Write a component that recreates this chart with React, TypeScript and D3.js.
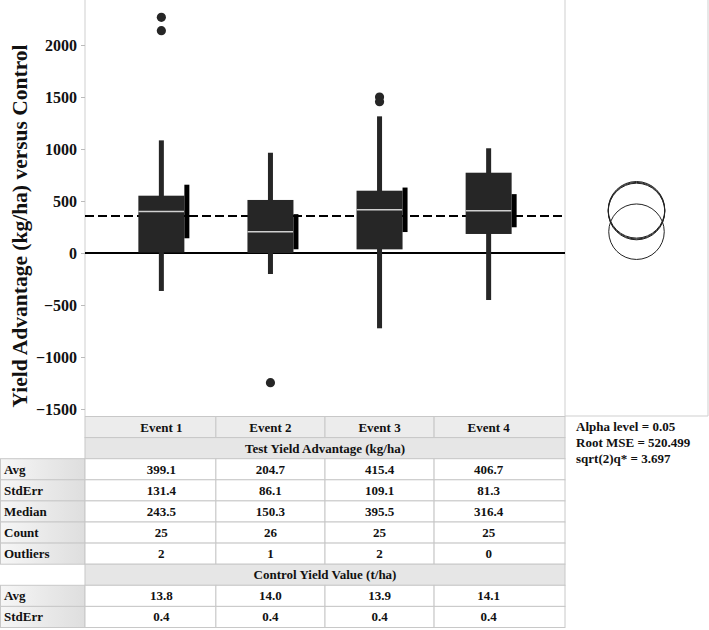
import React, { useEffect, useRef } from "react";
import * as d3 from "d3";

// chart values
const events = ["Event 1", "Event 2", "Event 3", "Event 4"];
const avg = [399.1, 204.7, 415.4, 406.7];
const stdErr = [131.4, 86.1, 109.1, 81.3];
const median = [243.5, 150.3, 395.5, 316.4];
const count = [25, 26, 25, 25];
const outlierCount = [2, 1, 2, 0];
const controlAvg = [13.8, 14.0, 13.9, 14.1];
const controlStdErr = [0.4, 0.4, 0.4, 0.4];

// box plot shape
const q1 = [5, 0, 35, 183];
const q3 = [551, 510, 599, 772];
const whiskerLow = [-365, -202, -724, -452];
const whiskerHigh = [1083, 964, 1314, 1007];
const outliers = [[2266, 2138], [-1247], [1500, 1455], []];
const grandMean = 356;

const yTicks = [-1500, -1000, -500, 0, 500, 1000, 1500, 2000];
const alphaLevel = 0.05;
const rootMSE = 520.499;
const qStar = 3.697;

const FONT = "'Liberation Serif', 'Times New Roman', serif";

const App = () => {
  const ref = useRef(null);

  useEffect(() => {
    const svg = d3.select(ref.current);
    svg.selectAll("*").remove();

    const plotLeft = 85;
    const plotRight = 565;
    const plotBottom = 416;
    const panelRight = 708;

    const x = d3.scalePoint().domain(events).range([plotLeft, plotRight]).padding(0.7);
    const y = d3.scaleLinear().domain([-1500, 2000]).range([409, 45]);

    const defs = svg.append("defs");
    const grad = defs.append("linearGradient").attr("id", "labelGrad");
    grad.append("stop").attr("offset", "0%").attr("stop-color", "#f6f6f6");
    grad.append("stop").attr("offset", "100%").attr("stop-color", "#dedede");

    // frame lines
    svg.append("line")
      .attr("x1", plotLeft).attr("x2", plotLeft).attr("y1", 0).attr("y2", plotBottom)
      .attr("stroke", "#cfcfcf");
    svg.append("line")
      .attr("x1", plotRight).attr("x2", plotRight).attr("y1", 0).attr("y2", plotBottom)
      .attr("stroke", "#cfcfcf");
    svg.append("line")
      .attr("x1", panelRight).attr("x2", panelRight).attr("y1", 0).attr("y2", plotBottom)
      .attr("stroke", "#cfcfcf");
    svg.append("line")
      .attr("x1", plotRight).attr("x2", panelRight).attr("y1", plotBottom).attr("y2", plotBottom)
      .attr("stroke", "#cfcfcf");

    // y axis
    const axis = svg.append("g")
      .attr("transform", `translate(${plotLeft},0)`)
      .call(d3.axisLeft(y).tickValues(yTicks).tickSize(4).tickPadding(4).tickFormat(d3.format("d")));
    axis.select(".domain").remove();
    axis.selectAll(".tick line").attr("stroke", "#bbb");
    axis.selectAll(".tick text")
      .attr("font-family", FONT)
      .attr("font-weight", "bold")
      .attr("font-size", 16)
      .attr("fill", "#111")
      .text((d) => (d < 0 ? "\u2212" + Math.abs(d) : d));

    svg.append("text")
      .attr("transform", "translate(27,226) rotate(-90)")
      .attr("text-anchor", "middle")
      .attr("font-family", FONT)
      .attr("font-weight", "bold")
      .attr("font-size", 21.5)
      .attr("fill", "#111")
      .text("Yield Advantage (kg/ha) versus Control");

    // reference lines
    svg.append("line")
      .attr("x1", plotLeft).attr("x2", plotRight)
      .attr("y1", y(grandMean)).attr("y2", y(grandMean))
      .attr("stroke", "#000").attr("stroke-width", 2).attr("stroke-dasharray", "9,4");
    svg.append("line")
      .attr("x1", plotLeft).attr("x2", plotRight)
      .attr("y1", y(0)).attr("y2", y(0))
      .attr("stroke", "#000").attr("stroke-width", 2);

    const boxW = 46;
    const fill = "#262626";
    const g = svg.append("g");

    events.forEach((ev, i) => {
      const cx = x(ev);
      // whisker
      g.append("rect")
        .attr("x", cx - 2.5).attr("width", 5)
        .attr("y", y(whiskerHigh[i])).attr("height", y(whiskerLow[i]) - y(whiskerHigh[i]))
        .attr("fill", fill);
      // box
      g.append("rect")
        .attr("x", cx - boxW / 2).attr("width", boxW)
        .attr("y", y(q3[i])).attr("height", y(q1[i]) - y(q3[i]))
        .attr("fill", fill);
      // mean line
      g.append("line")
        .attr("x1", cx - boxW / 2).attr("x2", cx + boxW / 2)
        .attr("y1", y(avg[i])).attr("y2", y(avg[i]))
        .attr("stroke", "#d0d0d0").attr("stroke-width", 1.5);
      // 95% interval of the mean
      const hi = avg[i] + 1.96 * stdErr[i];
      const lo = avg[i] - 1.96 * stdErr[i];
      g.append("rect")
        .attr("x", cx + boxW / 2).attr("width", 5)
        .attr("y", y(hi)).attr("height", y(lo) - y(hi))
        .attr("fill", "#000");
      // outliers
      g.selectAll(null)
        .data(outliers[i])
        .enter()
        .append("circle")
        .attr("cx", cx).attr("cy", (d) => y(d)).attr("r", 4.6)
        .attr("fill", fill);
    });

    // comparison circles
    const circleX = (plotRight + panelRight) / 2;
    svg.append("g")
      .selectAll("circle")
      .data(events)
      .enter()
      .append("circle")
      .attr("cx", circleX)
      .attr("cy", (d, i) => y(avg[i]))
      .attr("r", (d, i) => y(0) - y((qStar / Math.SQRT2) * rootMSE / Math.sqrt(count[i])))
      .attr("fill", "none")
      .attr("stroke", "#222")
      .attr("stroke-width", 1);

    // table
    const centers = events.map((e) => x(e));
    const bounds = [plotLeft];
    for (let i = 0; i < centers.length - 1; i++) bounds.push((centers[i] + centers[i + 1]) / 2);
    bounds.push(plotRight);

    const rowH = 21.1;
    const top = plotBottom + 0.5;
    const border = "#c8c8c8";
    const fmt1 = d3.format(".1f");
    const table = svg.append("g")
      .attr("font-family", FONT)
      .attr("font-weight", "bold")
      .attr("font-size", 13)
      .attr("fill", "#111");

    const rows = [
      { kind: "header" },
      { kind: "section", text: "Test Yield Advantage (kg/ha)" },
      { kind: "data", label: "Avg", values: avg.map(fmt1) },
      { kind: "data", label: "StdErr", values: stdErr.map(fmt1) },
      { kind: "data", label: "Median", values: median.map(fmt1) },
      { kind: "data", label: "Count", values: count.map(String) },
      { kind: "data", label: "Outliers", values: outlierCount.map(String) },
      { kind: "section", text: "Control Yield Value (t/ha)" },
      { kind: "data", label: "Avg", values: controlAvg.map(fmt1) },
      { kind: "data", label: "StdErr", values: controlStdErr.map(fmt1) },
    ];

    rows.forEach((row, r) => {
      const ry = top + r * rowH;
      const ty = ry + rowH / 2 + 4.5;
      if (row.kind === "header") {
        events.forEach((ev, i) => {
          table.append("rect")
            .attr("x", bounds[i]).attr("y", ry)
            .attr("width", bounds[i + 1] - bounds[i]).attr("height", rowH)
            .attr("fill", "#ececec").attr("stroke", border);
          table.append("text")
            .attr("x", centers[i]).attr("y", ty)
            .attr("text-anchor", "middle")
            .text(ev);
        });
      } else if (row.kind === "section") {
        table.append("rect")
          .attr("x", plotLeft).attr("y", ry)
          .attr("width", plotRight - plotLeft).attr("height", rowH)
          .attr("fill", "#e6e6e6").attr("stroke", border);
        table.append("text")
          .attr("x", (plotLeft + plotRight) / 2).attr("y", ty)
          .attr("text-anchor", "middle")
          .text(row.text);
      } else {
        table.append("rect")
          .attr("x", 0.5).attr("y", ry)
          .attr("width", plotLeft - 0.5).attr("height", rowH)
          .attr("fill", "url(#labelGrad)").attr("stroke", border);
        table.append("text")
          .attr("x", 4).attr("y", ty)
          .text(row.label);
        row.values.forEach((v, i) => {
          table.append("rect")
            .attr("x", bounds[i]).attr("y", ry)
            .attr("width", bounds[i + 1] - bounds[i]).attr("height", rowH)
            .attr("fill", "#fff").attr("stroke", border);
          table.append("text")
            .attr("x", centers[i]).attr("y", ty)
            .attr("text-anchor", "middle")
            .text(v);
        });
      }
    });

    // summary stats beside the table
    const stats = [
      `Alpha level = ${alphaLevel}`,
      `Root MSE = ${rootMSE}`,
      `sqrt(2)q* = ${qStar}`,
    ];
    table.selectAll(".stat")
      .data(stats)
      .enter()
      .append("text")
      .attr("class", "stat")
      .attr("x", 576)
      .attr("y", (d, i) => 431 + i * 16)
      .text((d) => d);
  }, []);

  return (
    <svg
      ref={ref}
      width={709}
      height={630}
      style={{ position: "absolute", left: 0, top: 0, background: "#fff" }}
    />
  );
};

export default App;
